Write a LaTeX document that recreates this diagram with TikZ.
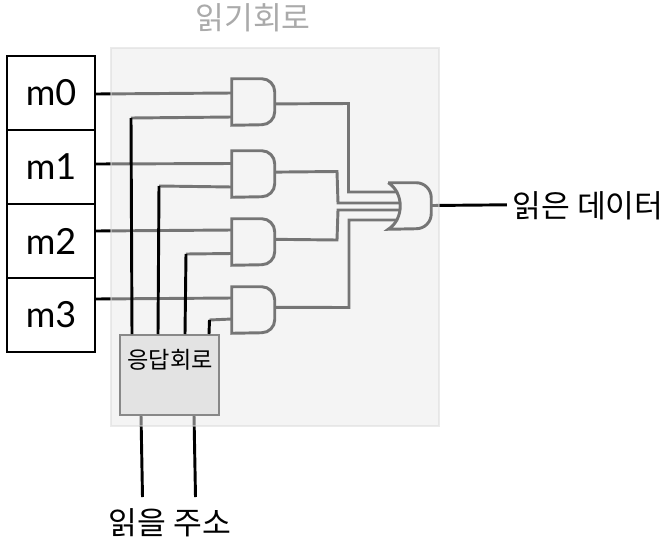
\documentclass[tikz,border=0pt]{standalone}
\usepackage{fontspec}
\setmainfont{Lato}
\newfontfamily\krfont{Noto Sans CJK KR}
\usetikzlibrary{positioning}
\definecolor{panelfill}{HTML}{EAEAEA}
\definecolor{panelline}{HTML}{D8D8D8}
\definecolor{decoderfill}{HTML}{E3E3E3}
\definecolor{decoderline}{HTML}{888888}
\definecolor{titlegray}{HTML}{AAAAAA}
\tikzset{
    wire/.style={line width=2.2pt},
    cell/.style={draw, line width=1.5pt, minimum width=66pt, minimum height=55.5pt, inner sep=0pt, font=\fontsize{27}{30}\selectfont},
    gatebox/.style={minimum width=32.25pt, minimum height=34.5pt, inner sep=0pt},
    krlabel/.style={inner sep=4pt, font=\krfont\fontsize{23.5}{28}\selectfont},
}
\begin{document}
\begin{tikzpicture}[x=0.75pt,y=-0.75pt,on grid,node distance=55.5pt]
      \useasboundingbox (0,0) rectangle (667,543);
      \node (m0) [cell] at (51,93) {m0};
      \node (m1) [cell, below of=m0] {m1};
      \node (m2) [cell, below of=m1] {m2};
      \node (m3) [cell, below of=m2] {m3};
      \node (g0) [gatebox] at (253.5,102) {};
      \node (g1) [gatebox] at (253.5,174) {};
      \node (g2) [gatebox] at (253.5,242) {};
      \node (g3) [gatebox] at (253.5,310) {};
      \node (gor) [gatebox] at (410,206) {};
      \node (rdout) [krlabel] at (588,206) {읽은 데이터};
      \node (rdaddr) [krlabel] at (170,523) {읽을 주소};
      \node (rdtitle) [krlabel, text=titlegray] at (253,18) {읽기회로};
      \coordinate (c0) at (131,118);
      \coordinate (c1) at (159,186);
      \coordinate (c2) at (186,254);
      \coordinate (c3) at (209.5,320);
      \coordinate (a0) at (142.5,497);
      \coordinate (a1) at (195.5,497);
      \coordinate (t0) at (141,415);
      \coordinate (t1) at (194,415);
      % gate outlines
      \foreach \g in {g0,g1,g2,g3}
        \draw[wire] (\g.north west) -- ++(30,0) arc (-90:0:13) -- ++(0,20) arc (0:90:13) -- (\g.south west) -- cycle;
      \draw[wire] (gor.north west) -- ++(28,0) arc (-90:0:15) -- ++(0,16) arc (0:90:15) -- (gor.south west)
        .. controls ++(16,-10) and ++(16,10) .. (gor.north west);
      % wires under the panel
      \draw[wire] (m0.east |- 0,94) -- (g0.west |- 0,93);
      \draw[wire] (m1.east |- 0,164) -- (g1.west |- 0,163.5);
      \draw[wire] (m2.east |- 0,231) -- (g2.west |- 0,230);
      \draw[wire] (m3.east |- 0,299) -- (g3.west |- 0,298);
      \draw[wire] (c0) -- (g0.west |- 0,117);
      \draw[wire] (c1) -- (g1.west |- 0,187);
      \draw[wire] (c2) -- (g2.west |- 0,253.5);
      \draw[wire] (c3) -- (g3.west |- 0,319);
      \draw[wire] (t0) -- (a0);
      \draw[wire] (t1) -- (a1);
      \draw[wire] (gor.east |- 0,205.5) -- (rdout.west |- 0,204.8);
      \draw[wire] (g0.-5) -- (348.5,103.5) -- (348.5,192) -- (398,192);
      \draw[wire] (g1.5) -- (337,171.5) -- (338,203) -- (400,203);
      \draw[wire] (g2.7) -- (337,240) -- (338,210) -- (400,210);
      \draw[wire] (g3.7) -- (349,307.5) -- (349,220) -- (398,220);
      \node (panel) [draw=panelline, fill=panelfill, opacity=0.5, line width=1.5pt, minimum width=246pt, minimum height=283.5pt, inner sep=0pt] at (275,237) {};
      \node (dec) [draw=decoderline, fill=decoderfill, line width=1.5pt, minimum width=74pt, minimum height=60pt, inner sep=0pt] at (169.5,375) {};
      \node (dectext) [font=\krfont\fontsize{17.4}{20}\selectfont] at (170,360) {응답회로};
      \draw[wire] (dec.north -| 132,0) -- (c0);
      \draw[wire] (dec.north -| 158,0) -- (c1);
      \draw[wire] (dec.north -| 185,0) -- (c2);
      \draw[wire] (dec.north -| 209,0) -- (c3);
\end{tikzpicture}
\end{document}
